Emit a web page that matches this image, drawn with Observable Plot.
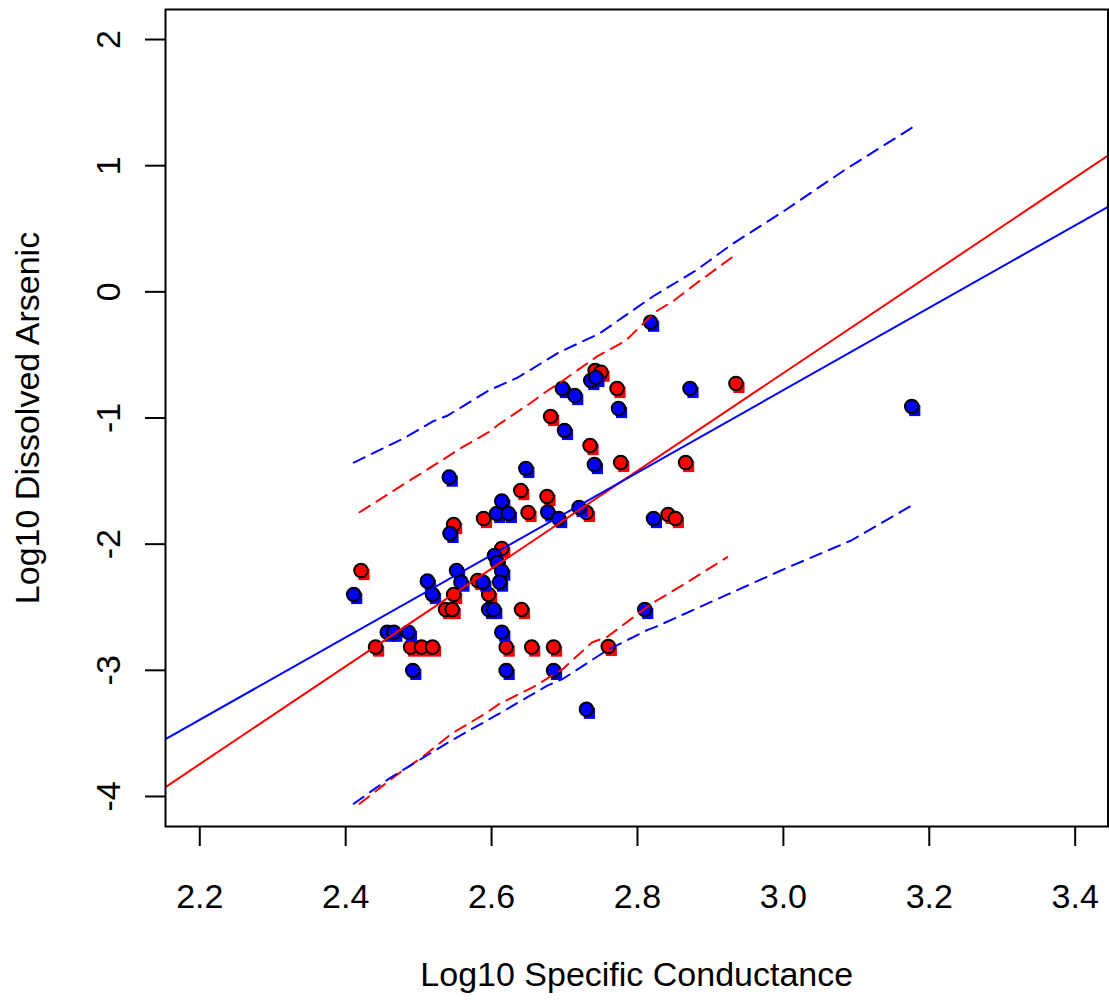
<!DOCTYPE html>
<html><head><meta charset="utf-8">
<script src="https://cdn.jsdelivr.net/npm/d3@7"></script>
<script src="https://cdn.jsdelivr.net/npm/@observablehq/plot@0.6"></script>
<style>body{margin:0;background:#fff;} svg{display:block;}</style>
</head><body><div id="chart"></div>
<script>
// Observed points (log10 specific conductance, log10 dissolved arsenic)
const redX = [2.421, 2.441, 2.489, 2.504, 2.519, 2.537, 2.546, 2.548, 2.548, 2.589, 2.581, 2.596, 2.614, 2.620, 2.640, 2.641, 2.650, 2.655, 2.676, 2.681, 2.685, 2.730, 2.735, 2.742, 2.750, 2.772, 2.777, 2.760, 2.842, 2.852, 2.866, 2.935];
const redY = [-2.209, -2.816, -2.816, -2.816, -2.816, -2.518, -2.518, -2.399, -1.844, -1.797, -2.288, -2.399, -2.034, -2.816, -1.575, -2.518, -1.749, -2.816, -1.622, -0.988, -2.816, -1.749, -1.218, -0.623, -0.637, -0.766, -1.353, -2.811, -1.765, -1.797, -1.353, -0.726];
const blueX = [2.411, 2.457, 2.466, 2.486, 2.492, 2.512, 2.519, 2.542, 2.543, 2.552, 2.558, 2.588, 2.596, 2.603, 2.604, 2.608, 2.614, 2.611, 2.607, 2.614, 2.623, 2.614, 2.620, 2.647, 2.677, 2.692, 2.697, 2.700, 2.685, 2.714, 2.720, 2.730, 2.736, 2.743, 2.741, 2.774, 2.810, 2.818, 2.822, 2.872, 3.176];
const blueY = [-2.399, -2.698, -2.698, -2.698, -3.001, -2.293, -2.399, -1.469, -1.915, -2.209, -2.301, -2.301, -2.518, -2.518, -2.090, -2.145, -2.214, -2.301, -1.757, -1.659, -1.757, -2.698, -3.001, -1.400, -1.746, -1.797, -0.766, -1.099, -3.001, -0.822, -1.709, -3.309, -0.703, -0.679, -1.369, -0.925, -2.518, -0.241, -1.797, -0.766, -0.909];

// Regression fits
const fitColor = ["red", "blue"];
const fitIntercept = [-12.266, -10.577];
const fitSlope = [3.874, 3.266];

// Interval curves (dashed)
const redUpperX = [2.419, 2.495, 2.517, 2.560, 2.596, 2.611, 2.652, 2.677, 2.698, 2.743, 2.784, 2.824, 2.850, 2.880, 2.933];
const redUpperY = [-1.747, -1.469, -1.390, -1.231, -1.112, -1.046, -0.887, -0.782, -0.703, -0.518, -0.386, -0.161, -0.069, 0.064, 0.288];
const redLowerX = [2.419, 2.469, 2.505, 2.545, 2.591, 2.611, 2.657, 2.698, 2.738, 2.758, 2.819, 2.865, 2.923];
const redLowerY = [-4.058, -3.833, -3.688, -3.503, -3.344, -3.265, -3.133, -2.988, -2.777, -2.737, -2.473, -2.314, -2.103];
const blueUpperX = [2.411, 2.482, 2.519, 2.540, 2.596, 2.636, 2.692, 2.748, 2.821, 2.880, 2.931, 3.002, 3.083, 3.176];
const blueUpperY = [-1.353, -1.154, -1.028, -0.980, -0.782, -0.679, -0.481, -0.330, -0.037, 0.169, 0.383, 0.645, 0.962, 1.300];
const blueLowerX = [2.411, 2.459, 2.500, 2.545, 2.606, 2.677, 2.698, 2.758, 2.814, 2.824, 2.900, 3.002, 3.093, 3.176];
const blueLowerY = [-4.058, -3.860, -3.715, -3.556, -3.358, -3.120, -3.067, -2.842, -2.679, -2.658, -2.460, -2.195, -1.971, -1.693];

const xTicks = [2.2, 2.4, 2.6, 2.8, 3.0, 3.2, 3.4];
const yTicks = [2, 1, 0, -1, -2, -3, -4];
const xTitle = "Log10 Specific Conductance";
const yTitle = "Log10 Dissolved Arsenic";

const xDomain = [2.153, 3.445];
const yDomain = [-4.238, 2.238];

const zip = (xs, ys) => xs.map((x, i) => ({x, y: ys[i]}));
const red = zip(redX, redY);
const blue = zip(blueX, blueY);
const fits = fitColor.flatMap((c, i) => xDomain.map(x => ({c, x, y: fitIntercept[i] + fitSlope[i] * x})));
const bands = [
  ...zip(redUpperX, redUpperY).map(d => ({...d, c: "red", k: "ru"})),
  ...zip(redLowerX, redLowerY).map(d => ({...d, c: "red", k: "rl"})),
  ...zip(blueUpperX, blueUpperY).map(d => ({...d, c: "blue", k: "bu"})),
  ...zip(blueLowerX, blueLowerY).map(d => ({...d, c: "blue", k: "bl"}))
];

const font = "'Liberation Sans', Arial, Helvetica, sans-serif";

const chart = Plot.plot({
  width: 1109, height: 1000,
  marginLeft: 165, marginRight: 1.5, marginTop: 9, marginBottom: 174,
  style: {fontFamily: font, background: "white", color: "black"},
  x: {domain: xDomain, axis: null},
  y: {domain: yDomain, axis: null},
  color: {type: "identity"},
  marks: [
    Plot.dot(red, {x: "x", y: "y", symbol: "square", r: 6.3, fill: "red", dx: 3, dy: 4}),
    Plot.dot(red, {x: "x", y: "y", r: 6.8, fill: "red", stroke: "black", strokeWidth: 2}),
    Plot.dot(blue, {x: "x", y: "y", symbol: "square", r: 6.3, fill: "blue", dx: 3, dy: 4}),
    Plot.dot(blue, {x: "x", y: "y", r: 6.8, fill: "blue", stroke: "black", strokeWidth: 2}),
    Plot.line(bands, {x: "x", y: "y", z: "k", stroke: "c", strokeWidth: 2, strokeDasharray: "12,8"}),
    Plot.line(fits, {x: "x", y: "y", z: "c", stroke: "c", strokeWidth: 2, clip: true}),
    Plot.frame({stroke: "black", strokeWidth: 2}),
    Plot.axisX(xTicks, {anchor: "bottom", tickSize: 20, tickPadding: 37, fontSize: 34, strokeWidth: 2, tickFormat: d3.format(".1f"), label: null}),
    Plot.axisY(yTicks, {anchor: "left", tickSize: 20, strokeWidth: 2, tickFormat: () => "", label: null}),
    Plot.text(yTicks, {y: d => d, text: d => String(d), frameAnchor: "left", dx: -56, rotate: -90, fontSize: 34, lineAnchor: "middle", textAnchor: "middle"}),
    Plot.text([xTitle], {frameAnchor: "bottom", dy: 149, fontSize: 34, lineAnchor: "middle", textAnchor: "middle"}),
    Plot.text([yTitle], {frameAnchor: "left", dx: -137, rotate: -90, fontSize: 34, lineAnchor: "middle", textAnchor: "middle"})
  ]
});
document.getElementById("chart").appendChild(chart);
</script>
</body></html>
